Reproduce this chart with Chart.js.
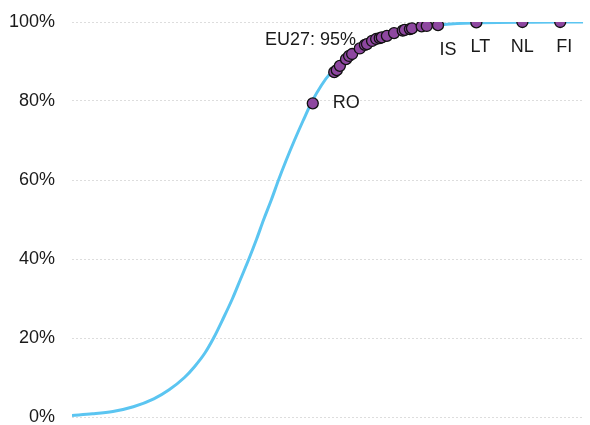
<!DOCTYPE html>
<html>
<head>
<meta charset="utf-8">
<script src="https://cdn.jsdelivr.net/npm/chart.js@4.4.1/dist/chart.umd.min.js"></script>
<style>
html,body{margin:0;padding:0;background:#fff;}
canvas{display:block;}
</style>
</head>
<body>
<canvas id="c" width="590" height="425" style="width:590px;height:425px;"></canvas>
<script>
// S-curve: x in arbitrary units 0..100, y in %
const curveX = [0,4,8,12,16,19,22,24,26,27.7,29.6,31.4,33.0,34.6,36.1,37.5,39.0,40.4,41.9,43.5,45.2,47.0,48.8,50.5,52.5,55,58,61,64,67,70,74,80,90,100];
const curveY = [0.4,0.8,1.4,2.6,4.6,6.9,10.0,12.8,16.2,20,25,30,35,40,45,50,55,60,65,70,75,80,84,87,89.6,92.4,94.7,96.4,97.6,98.5,99.1,99.5,99.8,99.95,100];

// Country points
const pointX = [47.1,51.3,51.8,52.4,53.6,54.2,54.8,56.3,57.3,57.7,58.7,59.5,60.2,60.6,61.6,63.0,64.7,65.1,66.1,66.5,68.4,69.4,71.6,79.1,88.1,95.5];
const pointY = [79.4,87.3,87.8,88.9,90.6,91.4,91.9,93.3,94.2,94.4,95.2,95.7,95.9,96.1,96.5,97.2,97.8,98.0,98.2,98.4,98.9,99.0,99.2,99.9,100,100];
const pointLabels = ["RO","","","","","","","","","","EU27: 95%","","","","","","","","","","","","IS","LT","NL","FI"];

const yTicks = [0,20,40,60,80,100];

const labelPlacement = {
  "RO": {dx:20, dy:0, align:"left"},
  "EU27: 95%": {dx:-16, dy:-1, align:"right"},
  "IS": {dx:10, dy:25, align:"center"},
  "LT": {dx:4, dy:25, align:"center"},
  "NL": {dx:0, dy:25, align:"center"},
  "FI": {dx:4, dy:25, align:"center"}
};

const FONT = "'Liberation Sans', Arial, sans-serif";

const labelPlugin = {
  id: 'pointLabels',
  afterDatasetsDraw(chart) {
    const meta = chart.getDatasetMeta(1);
    const ctx = chart.ctx;
    ctx.save();
    ctx.font = "18px " + FONT;
    ctx.fillStyle = "#1a1a1a";
    ctx.textBaseline = "middle";
    meta.data.forEach((el, i) => {
      const t = pointLabels[i];
      if (!t) return;
      const p = labelPlacement[t];
      ctx.textAlign = p.align;
      ctx.fillText(t, el.x + p.dx, el.y + p.dy);
    });
    ctx.restore();
  }
};

new Chart(document.getElementById('c'), {
  type: 'scatter',
  data: {
    datasets: [
      {
        data: curveX.map((x, i) => ({x, y: curveY[i]})),
        showLine: true,
        borderColor: '#5BC5F1',
        borderWidth: 3,
        pointRadius: 0,
        cubicInterpolationMode: 'monotone',
        fill: false,
        order: 2
      },
      {
        data: pointX.map((x, i) => ({x, y: pointY[i]})),
        showLine: false,
        pointRadius: 5.5,
        pointBackgroundColor: '#8E47A0',
        pointBorderColor: '#111111',
        pointBorderWidth: 1.3,
        order: 1
      }
    ]
  },
  options: {
    responsive: false,
    animation: false,
    devicePixelRatio: 1,
    layout: { padding: { left: 0, right: 5, top: 22, bottom: 8 } },
    plugins: { legend: { display: false }, tooltip: { enabled: false } },
    scales: {
      x: { type: 'linear', min: 0, max: 100, display: false },
      y: {
        min: 0, max: 100,
        afterBuildTicks(scale) { scale.ticks = yTicks.map(v => ({value: v})); },
        afterFit(scale) { scale.width = 72; scale.paddingTop = 6; scale.paddingBottom = 6; },
        ticks: {
          padding: 17,
          color: '#1a1a1a',
          font: { family: FONT, size: 18 },
          callback: v => v + '%'
        },
        grid: { color: '#dddddd', lineWidth: 1, drawTicks: false },
        border: { display: false, dash: [2, 2] }
      }
    }
  },
  plugins: [labelPlugin]
});
</script>
</body>
</html>
